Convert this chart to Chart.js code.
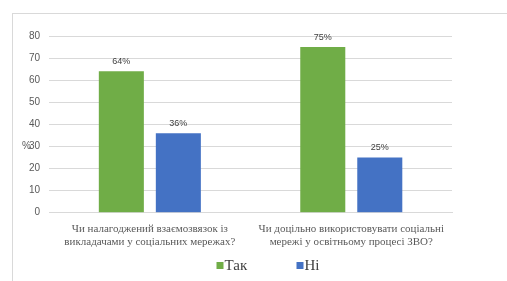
<!DOCTYPE html>
<html>
<head>
<meta charset="utf-8">
<script src="https://cdn.jsdelivr.net/npm/chart.js@4/dist/chart.umd.min.js"></script>
<style>
  body { margin: 0; background: #fff; }
  #frame { position: absolute; left: 12px; top: 13px; width: 600px; height: 400px; border: 1px solid #d9d9d9; }
  #wrap { position: absolute; left: 0; top: 0; width: 507px; height: 281px; }
</style>
</head>
<body>
<div id="frame"></div>
<div id="wrap"><canvas id="chart"></canvas></div>
<script>
document.addEventListener("DOMContentLoaded", function () {
  // ----------------------------
  // Дані
  // ----------------------------
  const categories = [
    ["Чи налагоджений взаємозвязок із", "викладачами у соціальних мережах?"],
    ["Чи доцільно використовувати соціальні", "мережі у освітньому процесі ЗВО?"]
  ];
  const seriesNames = ["Так", "Ні"];
  const yesValues = [64, 75];
  const noValues = [36, 25];
  const yTicks = [0, 10, 20, 30, 40, 50, 60, 70, 80];
  const axisTitle = "%";

  const serif = "'Liberation Serif', 'Times New Roman', serif";
  const sans = "'Liberation Sans', Arial, sans-serif";

  // підписи над стовпчиками, назва осі та легенда
  const extras = {
    id: "extras",
    afterDatasetsDraw(chart) {
      const ctx = chart.ctx;
      ctx.save();
      ctx.font = "9px " + sans;
      ctx.fillStyle = "#404040";
      ctx.textAlign = "center";
      ctx.textBaseline = "bottom";
      chart.data.datasets.forEach((ds, i) => {
        chart.getDatasetMeta(i).data.forEach((bar, j) => {
          ctx.fillText(ds.data[j] + "%", bar.x, bar.y - 5);
        });
      });
      // назва осі "%"
      const y = chart.scales.y;
      ctx.fillStyle = "#595959";
      ctx.font = "10px " + sans;
      ctx.textAlign = "left";
      ctx.textBaseline = "middle";
      ctx.fillText(axisTitle, 22, y.getPixelForValue(30));

      // легенда
      ctx.font = "15px " + serif;
      let x = chart.width / 2 - 37;
      const ly = chart.height - 16;
      chart.data.datasets.forEach((ds) => {
        ctx.fillStyle = ds.backgroundColor;
        ctx.fillRect(x, ly - 3, 7, 7);
        ctx.fillStyle = "#404040";
        ctx.fillText(ds.label, x + 8, ly + 1);
        x += 80;
      });
      ctx.restore();
    }
  };

  new Chart(document.getElementById("chart"), {
    type: "bar",
    data: {
      labels: categories,
      datasets: [
        { label: seriesNames[0], data: yesValues, backgroundColor: "#70AD47", categoryPercentage: 0.566, barPercentage: 0.79 },
        { label: seriesNames[1], data: noValues, backgroundColor: "#4472C4", categoryPercentage: 0.566, barPercentage: 0.79 }
      ]
    },
    options: {
      responsive: true,
      maintainAspectRatio: false,
      animation: false,
      layout: { padding: { left: 20, right: 55, top: 36, bottom: 31 } },
      scales: {
        x: {
          grid: { display: false },
          border: { color: "#d9d9d9" },
          ticks: {
            color: "#595959",
            font: { family: serif, size: 11, lineHeight: 1.15 },
            maxRotation: 0,
            autoSkip: false,
            padding: 2
          }
        },
        y: {
          min: 0,
          max: 80,
          afterBuildTicks(scale) { scale.ticks = yTicks.map(v => ({ value: v })); },
          grid: { color: "#d9d9d9", drawTicks: false },
          border: { display: false },
          ticks: {
            color: "#595959",
            font: { family: sans, size: 10 },
            padding: 9
          }
        }
      },
      plugins: {
        legend: { display: false },
        tooltip: { enabled: false }
      }
    },
    plugins: [extras]
  });
});
</script>
</body>
</html>
